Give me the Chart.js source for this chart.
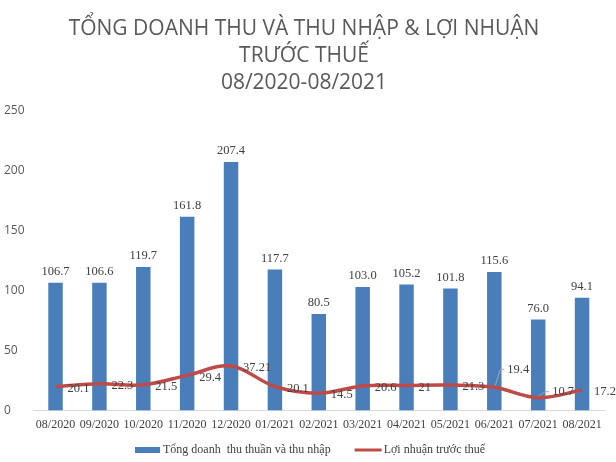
<!DOCTYPE html>
<html>
<head>
<meta charset="utf-8">
<script src="https://cdn.jsdelivr.net/npm/chart.js@4.4.1/dist/chart.umd.min.js"></script>
<style>
  html, body { margin: 0; padding: 0; background: #fff; }
  #wrap { width: 616px; height: 462px; }
</style>
</head>
<body>
<div id="wrap"><canvas id="chart"></canvas></div>
<script>
const months = ["08/2020", "09/2020", "10/2020", "11/2020", "12/2020", "01/2021", "02/2021",
  "03/2021", "04/2021", "05/2021", "06/2021", "07/2021", "08/2021"];
const doanhThu = [106.7, 106.6, 119.7, 161.8, 207.4, 117.7, 80.5, 103.0, 105.2, 101.8, 115.6, 76.0, 94.1];
const loiNhuan = [20.1, 22.3, 21.5, 29.4, 37.21, 20.1, 14.5, 20.6, 21, 21.3, 19.4, 10.7, 17.2];
const yTicks = [0, 50, 100, 150, 200, 250];

const serif = "'Liberation Serif', 'Times New Roman', serif";
const sans = "'Open Sans', 'Liberation Sans', sans-serif";

// where the line labels sit relative to their point (dx, dy); leader = draw a little callout line
const lineLabelPos = {
  10: { dx: 13, dy: -18, leader: true },
  11: { dx: 14, dy: -6, leader: true }
};

const valueLabels = {
  id: "valueLabels",
  afterDatasetsDraw(chart) {
    const ctx = chart.ctx;
    ctx.save();
    ctx.font = "12.5px " + serif;
    ctx.fillStyle = "#404040";

    // bar labels
    chart.getDatasetMeta(0).data.forEach((bar, i) => {
      ctx.textAlign = "center";
      ctx.textBaseline = "bottom";
      ctx.fillText(doanhThu[i].toFixed(1), bar.x, bar.y - 5);
    });

    // line labels
    chart.getDatasetMeta(1).data.forEach((pt, i) => {
      const p = lineLabelPos[i] || { dx: 12, dy: 2 };
      const tx = pt.x + p.dx, ty = pt.y + p.dy;
      if (p.leader) {
        ctx.strokeStyle = "#a6a6a6";
        ctx.lineWidth = 1;
        ctx.beginPath();
        ctx.moveTo(pt.x + 1, pt.y - 2);
        ctx.lineTo(tx - 7, ty);
        ctx.lineTo(tx - 3, ty);
        ctx.stroke();
      }
      ctx.textAlign = "left";
      ctx.textBaseline = "middle";
      ctx.fillText(String(loiNhuan[i]), tx, ty);
    });
    ctx.restore();
  }
};

// legend drawn by hand, Excel style (box, then line)
const excelLegend = {
  id: "excelLegend",
  afterDraw(chart) {
    const ctx = chart.ctx;
    const ds = chart.data.datasets;
    const y = 450;
    let x = 135;
    ctx.save();
    ctx.font = "12px " + serif;
    ctx.textBaseline = "middle";
    ctx.textAlign = "left";

    ctx.fillStyle = ds[0].backgroundColor;
    ctx.fillRect(x, y - 3, 25, 6);
    x += 28;
    ctx.fillStyle = "#404040";
    ctx.fillText(ds[0].label, x, y);
    x += ctx.measureText(ds[0].label).width + 24;

    ctx.strokeStyle = ds[1].borderColor;
    ctx.lineWidth = 3;
    ctx.beginPath();
    ctx.moveTo(x, y);
    ctx.lineTo(x + 27, y);
    ctx.stroke();
    x += 29;
    ctx.fillText(ds[1].label, x, y);
    ctx.restore();
  }
};

new Chart(document.getElementById("chart"), {
  data: {
    labels: months,
    datasets: [
      {
        type: "bar",
        label: "Tổng doanh  thu thuần và thu nhập",
        data: doanhThu,
        backgroundColor: "#4A7EBB",
        barPercentage: 0.33,
        categoryPercentage: 1,
        order: 2
      },
      {
        type: "line",
        label: "Lợi nhuận trước thuế",
        data: loiNhuan,
        borderColor: "#BE4B48",
        backgroundColor: "#BE4B48",
        borderWidth: 3.5,
        pointRadius: 0,
        tension: 0.35,
        order: 1
      }
    ]
  },
  options: {
    responsive: true,
    maintainAspectRatio: false,
    animation: false,
    layout: { padding: { left: 4, right: 12, top: 6, bottom: 22 } },
    plugins: {
      title: {
        display: true,
        text: ["TỔNG DOANH THU VÀ THU NHẬP & LỢI NHUẬN", "TRƯỚC THUẾ", "08/2020-08/2021"],
        color: "#595959",
        font: { family: sans, size: 21, weight: "normal", lineHeight: 1.3 },
        padding: { top: 9, bottom: 14 }
      },
      legend: { display: false },
      tooltip: { enabled: false }
    },
    scales: {
      x: {
        grid: { display: false, drawTicks: false },
        border: { color: "#d9d9d9", width: 1 },
        ticks: { color: "#404040", font: { family: serif, size: 12 }, maxRotation: 0, autoSkip: false, padding: 7.5 }
      },
      y: {
        min: 0,
        max: 250,
        afterBuildTicks(axis) { axis.ticks = yTicks.map(v => ({ value: v })); },
        grid: { display: false, drawTicks: false },
        border: { display: false },
        ticks: { color: "#595959", font: { family: sans, size: 12 }, crossAlign: "far", padding: 4.5 }
      }
    }
  },
  plugins: [valueLabels, excelLegend]
});
</script>
</body>
</html>
